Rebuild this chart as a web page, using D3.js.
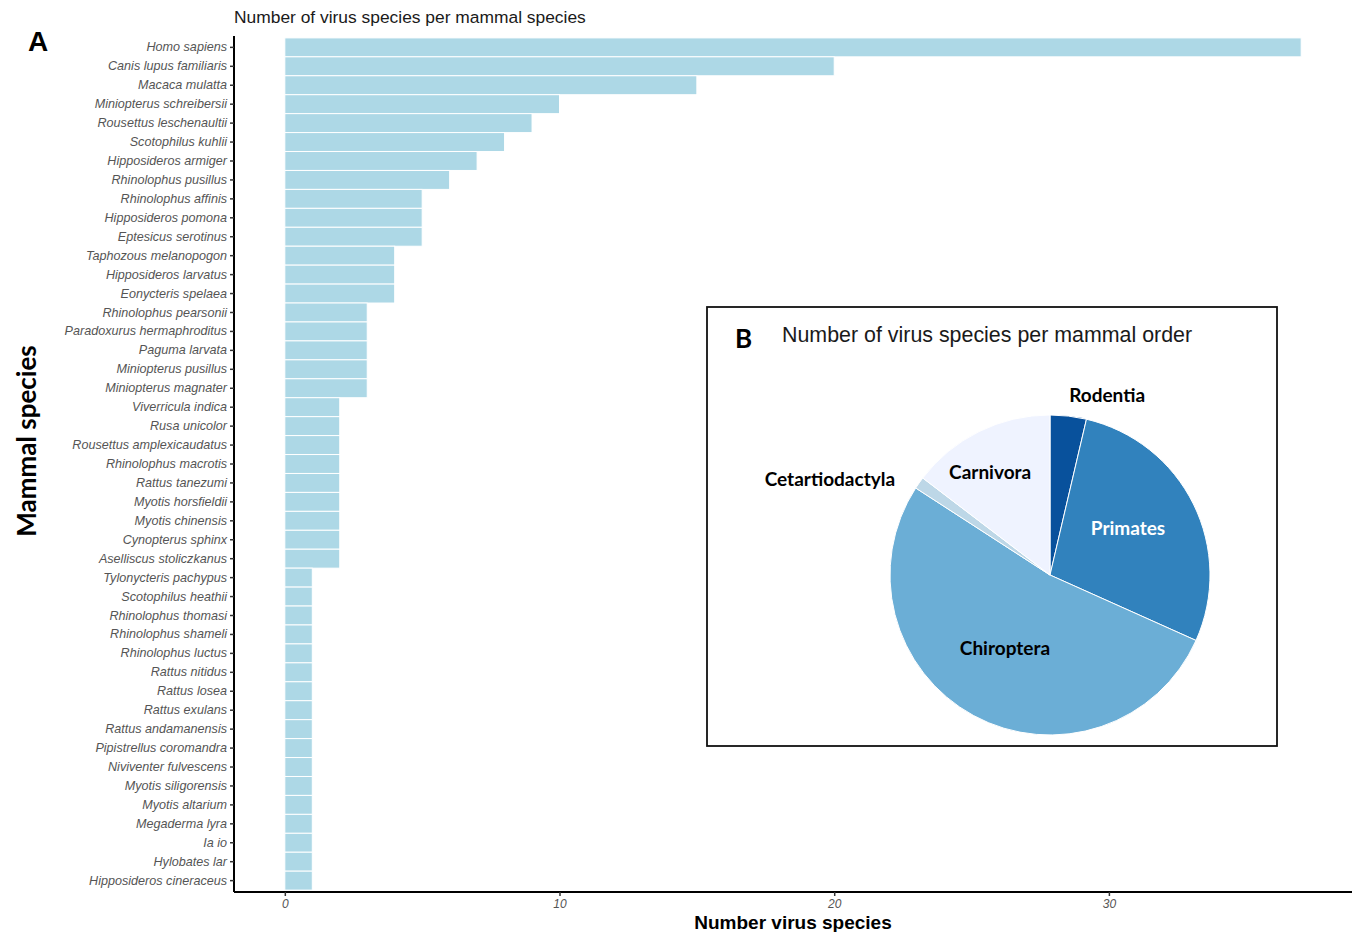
<!DOCTYPE html>
<html>
<head>
<meta charset="utf-8">
<script src="https://cdn.jsdelivr.net/npm/d3@7"></script>
<style>
  body { margin: 0; background: #fff; }
  .tick text { font-family: "Liberation Sans", Arial, sans-serif; }
</style>
</head>
<body>
<div id="chart-container"></div>
<script>

// Mammal species and number of virus species found in each.
const species = [
  "Homo sapiens", "Canis lupus familiaris", "Macaca mulatta", "Miniopterus schreibersii",
  "Rousettus leschenaultii", "Scotophilus kuhlii", "Hipposideros armiger", "Rhinolophus pusillus",
  "Rhinolophus affinis", "Hipposideros pomona", "Eptesicus serotinus", "Taphozous melanopogon",
  "Hipposideros larvatus", "Eonycteris spelaea", "Rhinolophus pearsonii", "Paradoxurus hermaphroditus",
  "Paguma larvata", "Miniopterus pusillus", "Miniopterus magnater", "Viverricula indica",
  "Rusa unicolor", "Rousettus amplexicaudatus", "Rhinolophus macrotis", "Rattus tanezumi",
  "Myotis horsfieldii", "Myotis chinensis", "Cynopterus sphinx", "Aselliscus stoliczkanus",
  "Tylonycteris pachypus", "Scotophilus heathii", "Rhinolophus thomasi", "Rhinolophus shameli",
  "Rhinolophus luctus", "Rattus nitidus", "Rattus losea", "Rattus exulans",
  "Rattus andamanensis", "Pipistrellus coromandra", "Niviventer fulvescens", "Myotis siligorensis",
  "Myotis altarium", "Megaderma lyra", "Ia io", "Hylobates lar", "Hipposideros cineraceus"
];
const virusCounts = [
  37, 20, 15, 10, 9, 8, 7, 6,
  5, 5, 5, 4, 4, 4,
  3, 3, 3, 3, 3,
  2, 2, 2, 2, 2, 2, 2, 2, 2,
  1, 1, 1, 1, 1, 1, 1, 1, 1, 1, 1, 1, 1, 1, 1, 1, 1
];
const xTicks = [0, 10, 20, 30];

// Mammal orders for the pie, clockwise from 12 o'clock.
const orders = ["Rodentia", "Primates", "Chiroptera", "Cetartiodactyla", "Carnivora"];
const orderCounts = [3, 23, 43, 1, 12];
const orderColors = ["#08519c", "#3182bd", "#6baed6", "#bdd7e7", "#eff3ff"];

const data = species.map((s, i) => ({ name: s, value: virusCounts[i] }));
const pieData = orders.map((o, i) => ({ name: o, value: orderCounts[i], color: orderColors[i] }));

// Sizing.
const fWidth = 1357, fHeight = 932;
const margin = { top: 36, right: 5, bottom: 40, left: 234 };
const width = fWidth - margin.left - margin.right;
const height = fHeight - margin.top - margin.bottom;
const sansFont = '"Liberation Sans", Arial, sans-serif';
const boldFont = 'Lato, "Open Sans", sans-serif';

const svg = d3.select("#chart-container").append("svg")
  .attr("width", fWidth)
  .attr("height", fHeight)
  .style("font-family", sansFont);

const chart = svg.append("g")
  .attr("transform", `translate(${ margin.left } ${ margin.top })`);

// Scales, with ggplot-like expansion.
const xMax = d3.max(virusCounts);
const xScale = d3.scaleLinear()
  .domain([-0.05 * xMax, xMax * 1.05])
  .range([0, width]);

// Discrete axis: 0.6 of a step of space on each end.
const n = species.length;
const step = height / (n + 0.2);
const yScale = d3.scaleBand()
  .domain(species)
  .range([0.1 * step, height - 0.1 * step])
  .paddingInner(0)
  .paddingOuter(0);

// Bars.
chart.append("g").selectAll("rect")
  .data(data)
  .enter()
  .append("rect")
    .attr("x", xScale(0))
    .attr("y", d => yScale(d.name))
    .attr("width", d => xScale(d.value) - xScale(0))
    .attr("height", yScale.bandwidth())
    .attr("fill", "#add8e6")
    .attr("stroke", "#fff")
    .attr("stroke-width", 1);

// Y axis.
const yAxis = chart.append("g")
  .call(d3.axisLeft(yScale).tickSizeOuter(0).tickSize(4).tickPadding(3));
yAxis.select(".domain").attr("stroke", "#000").attr("stroke-width", 2)
  .attr("d", `M0,0V${ height }`);
yAxis.selectAll(".tick line").attr("stroke", "#333").attr("stroke-width", 1.5);
yAxis.selectAll(".tick text")
  .attr("fill", "#555")
  .style("font-size", "12.6px")
  .style("font-style", "italic");

// X axis.
const xAxis = chart.append("g")
  .attr("transform", `translate(0 ${ height })`)
  .call(d3.axisBottom(xScale).tickValues(xTicks).tickSizeOuter(0).tickSize(4).tickPadding(3));
xAxis.select(".domain").attr("stroke", "#000").attr("stroke-width", 2)
  .attr("d", `M0,0H${ width }`);
xAxis.selectAll(".tick line").attr("stroke", "#333").attr("stroke-width", 1.5);
xAxis.selectAll(".tick text")
  .attr("fill", "#555")
  .style("font-size", "12px")
  .style("font-style", "italic");

// Titles.
svg.append("text")
  .attr("x", margin.left)
  .attr("y", 23)
  .attr("fill", "#1a1a1a")
  .style("font-size", "17.4px")
  .text("Number of virus species per mammal species");

svg.append("text")
  .attr("x", 28)
  .attr("y", 51)
  .attr("fill", "#000")
  .style("font-size", "28px")
  .style("font-weight", "bold")
  .text("A");

svg.append("text")
  .attr("x", margin.left + width / 2)
  .attr("y", 929)
  .attr("text-anchor", "middle")
  .attr("fill", "#000")
  .style("font-size", "19px")
  .style("font-weight", "bold")
  .text("Number virus species");

svg.append("text")
  .attr("transform", "translate(36 441) rotate(-90)")
  .attr("text-anchor", "middle")
  .attr("fill", "#000")
  .style("font-family", boldFont)
  .style("font-size", "26px")
  .style("font-weight", "bold")
  .text("Mammal species");

// Inset B: pie chart.
const inset = { x: 707, y: 307, w: 570, h: 439 };
const insetG = svg.append("g");
insetG.append("rect")
  .attr("x", inset.x)
  .attr("y", inset.y)
  .attr("width", inset.w)
  .attr("height", inset.h)
  .attr("fill", "#fff")
  .attr("stroke", "#111")
  .attr("stroke-width", 1.8);

insetG.append("text")
  .attr("x", 735)
  .attr("y", 348)
  .style("font-family", boldFont)
  .style("font-size", "26px")
  .style("font-weight", "bold")
  .text("B");

insetG.append("text")
  .attr("x", 782)
  .attr("y", 342)
  .attr("fill", "#1a1a1a")
  .style("font-size", "21.4px")
  .text("Number of virus species per mammal order");

const pieCx = 1050, pieCy = 575, pieR = 160;
const pieGen = d3.pie().sort(null).value(d => d.value);
const arcGen = d3.arc().innerRadius(0).outerRadius(pieR);
const arcs = pieGen(pieData);

const pieG = insetG.append("g")
  .attr("transform", `translate(${ pieCx } ${ pieCy })`);

pieG.selectAll("path")
  .data(arcs)
  .enter()
  .append("path")
    .attr("d", arcGen)
    .attr("fill", d => d.data.color)
    .attr("stroke", "#fff")
    .attr("stroke-width", 1);

// Label placement: angle (deg, clockwise from top), radius, anchor, colour.
const labelLayout = {
  Rodentia: [17.6, 189, "middle", "#000"],
  Primates: [59, 91, "middle", "#fff"],
  Chiroptera: [211.6, 86, "middle", "#000"],
  Cetartiodactyla: [293.5, 240, "middle", "#000"],
  Carnivora: [329.8, 119, "middle", "#000"]
};

pieG.selectAll(".pie-label")
  .data(arcs)
  .enter()
  .append("text")
    .classed("pie-label", true)
    .attr("x", d => labelLayout[d.data.name][1] * Math.sin(labelLayout[d.data.name][0] * Math.PI / 180))
    .attr("y", d => -labelLayout[d.data.name][1] * Math.cos(labelLayout[d.data.name][0] * Math.PI / 180))
    .attr("dy", "0.35em")
    .attr("text-anchor", d => labelLayout[d.data.name][2])
    .attr("fill", d => labelLayout[d.data.name][3])
    .style("font-family", boldFont)
    .style("font-size", "19px")
    .style("font-weight", "bold")
    .text(d => d.data.name);

</script>
</body>
</html>
